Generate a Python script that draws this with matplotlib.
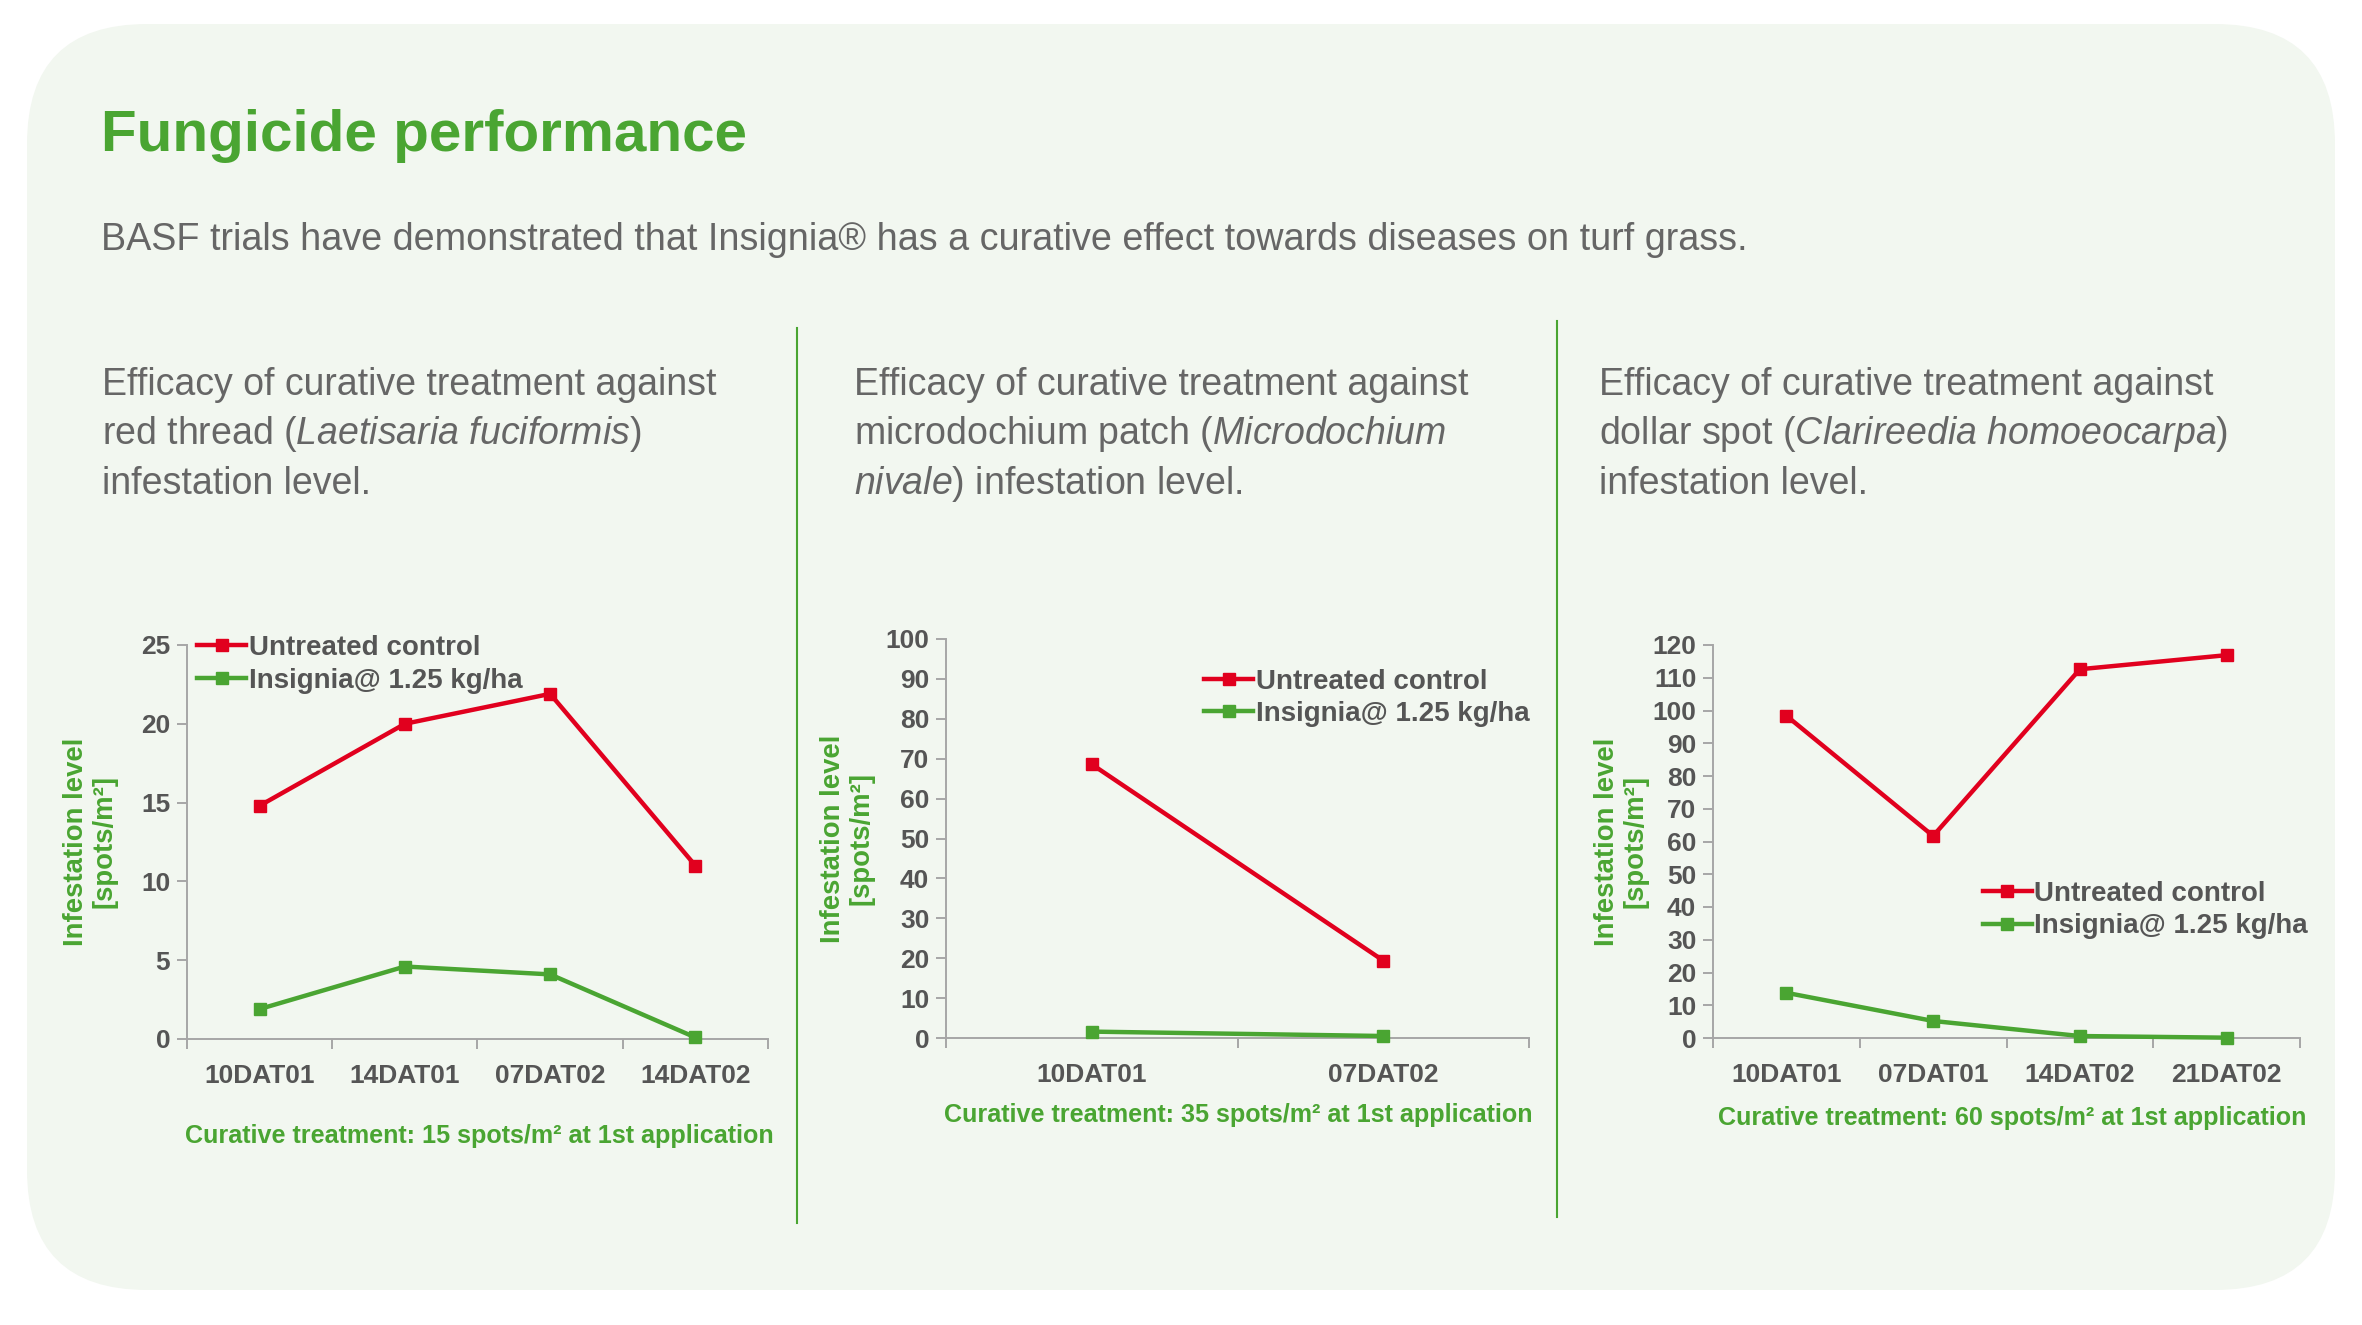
import numpy as np
import matplotlib
matplotlib.use("Agg")
import matplotlib.pyplot as plt
from matplotlib.patches import FancyBboxPatch
from matplotlib.lines import Line2D

# DATA ----------------------------------------------------------------------

labels_1 = ["10DAT01", "14DAT01", "07DAT02", "14DAT02"]
untreated_1 = [14.8, 20.0, 21.9, 11.0]
insignia_1 = [1.9, 4.6, 4.1, 0.1]

labels_2 = ["10DAT01", "07DAT02"]
untreated_2 = [68.6, 19.4]
insignia_2 = [1.6, 0.5]

labels_3 = ["10DAT01", "07DAT01", "14DAT02", "21DAT02"]
untreated_3 = [98.4, 61.7, 112.6, 116.9]
insignia_3 = [13.8, 5.2, 0.6, 0.1]

series_names = ["Untreated control", "Insignia@ 1.25 kg/ha"]

# STYLE ---------------------------------------------------------------------

W, H = 2362, 1325
GREEN = "#4aa532"
RED = "#e1001e"
GRAY_TXT = "#666666"
TICK_TXT = "#555555"
AXIS_GRAY = "#a6a6a6"
PANEL_BG = "#f2f7f0"
NARROW = ["Liberation Sans Narrow", "Liberation Sans", "DejaVu Sans"]
LW, MS = 3.2, 8

plt.rcParams["font.family"] = ["Liberation Sans", "DejaVu Sans"]
plt.rcParams["mathtext.fontset"] = "custom"
plt.rcParams["mathtext.rm"] = "Liberation Sans"
plt.rcParams["mathtext.it"] = "Liberation Sans:italic"

fig = plt.figure(figsize=(W / 100, H / 100), dpi=100)
fig.patch.set_facecolor("white")

# background axes in pixel coordinates
bg = fig.add_axes([0, 0, 1, 1])
bg.set_xlim(0, W)
bg.set_ylim(H, 0)
bg.axis("off")
bg.add_patch(FancyBboxPatch((27, 24), 2335 - 27, 1290 - 24,
                            boxstyle="round,pad=0,rounding_size=120",
                            fc=PANEL_BG, ec="none"))

bg.text(101, 151, "Fungicide performance", fontsize=42, fontweight="bold",
        color=GREEN, va="baseline")
bg.text(101, 250, "BASF trials have demonstrated that Insignia® has a curative "
        "effect towards diseases on turf grass.", fontsize=27.2,
        color=GRAY_TXT, va="baseline")

# dividers
bg.plot([797, 797], [328, 1223], color=GREEN, lw=1.5)
bg.plot([1557, 1557], [321, 1217], color=GREEN, lw=1.5)

panel_titles = [
    (102, ["Efficacy of curative treatment against",
           r"red thread ($\mathit{Laetisaria\ fuciformis}$)",
           "infestation level."]),
    (854, ["Efficacy of curative treatment against",
           r"microdochium patch ($\mathit{Microdochium}$",
           r"$\mathit{nivale}$) infestation level."]),
    (1599, ["Efficacy of curative treatment against",
            r"dollar spot ($\mathit{Clarireedia\ homoeocarpa}$)",
            "infestation level."]),
]
for x0, lines in panel_titles:
    for i, line in enumerate(lines):
        bg.text(x0, 395 + i * 49.5, line, fontsize=27, color=GRAY_TXT,
                va="baseline")

# CHARTS --------------------------------------------------------------------

charts = [
    dict(rect=[187, 645, 768, 1039], labels=labels_1, u=untreated_1,
         ins=insignia_1, ymax=25, ystep=5, leg=(0.018, 1.025), ylab=-0.167,
         note=(774, 1136)),
    dict(rect=[946, 639, 1529, 1038], labels=labels_2, u=untreated_2,
         ins=insignia_2, ymax=100, ystep=10, leg=(0.443, 0.926), ylab=-0.17,
         note=(1532, 1115)),
    dict(rect=[1713, 645, 2300, 1038], labels=labels_3, u=untreated_3,
         ins=insignia_3, ymax=120, ystep=10, leg=(0.46, 0.4), ylab=-0.157,
         note=(2306, 1118)),
]
notes = ["Curative treatment: 15 spots/m² at 1st application",
         "Curative treatment: 35 spots/m² at 1st application",
         "Curative treatment: 60 spots/m² at 1st application"]

for c, note in zip(charts, notes):
    l, t, r, b = c["rect"]
    ax = fig.add_axes([l / W, 1 - b / H, (r - l) / W, (b - t) / H])
    ax.set_facecolor("none")
    n = len(c["labels"])
    x = np.arange(n)
    ax.plot(x, c["u"], color=RED, lw=LW, marker="s", ms=MS,
            label=series_names[0], clip_on=False, zorder=3)
    ax.plot(x, c["ins"], color=GREEN, lw=LW, marker="s", ms=MS,
            label=series_names[1], clip_on=False, zorder=3)
    ax.set_xlim(-0.5, n - 0.5)
    ax.set_ylim(0, c["ymax"])
    ax.set_yticks(np.arange(0, c["ymax"] + 1, c["ystep"]))
    ax.set_xticks(np.arange(n + 1) - 0.5)
    ax.set_xticklabels([])
    ax.set_xticks(x, minor=True)
    ax.set_xticklabels(c["labels"], minor=True)
    ax.tick_params(axis="x", which="minor", length=0, pad=18)
    ax.tick_params(axis="both", which="major", length=7, width=1.4,
                   color=AXIS_GRAY, direction="out")
    ax.tick_params(axis="y", pad=5)
    for lab in ax.get_xticklabels(minor=True) + ax.get_yticklabels():
        lab.set_family(NARROW)
        lab.set_fontweight("bold")
        lab.set_fontsize(19)
        lab.set_color(TICK_TXT)
    for s in ["top", "right"]:
        ax.spines[s].set_visible(False)
    for s in ["left", "bottom"]:
        ax.spines[s].set_color(AXIS_GRAY)
        ax.spines[s].set_linewidth(1.4)

    handles = [Line2D([], [], color=RED, lw=LW, marker="s", ms=MS),
               Line2D([], [], color=GREEN, lw=LW, marker="s", ms=MS)]
    leg = ax.legend(handles, series_names, loc="upper left",
                    bbox_to_anchor=c["leg"], frameon=False, handlelength=1.75,
                    handletextpad=0.1, borderpad=0, borderaxespad=0,
                    labelspacing=0.24,
                    prop=dict(family=NARROW, weight="bold", size=20))
    for txt in leg.get_texts():
        txt.set_color(TICK_TXT)

    ax.text(c["ylab"], 0.5, "Infestation level\n[spots/m²]", rotation=90,
            transform=ax.transAxes, ha="center", va="center",
            multialignment="center", fontsize=19.8, fontweight="bold",
            color=GREEN, linespacing=1.12)

    nx, ny = c["note"]
    bg.text(nx, ny, note, ha="right", va="center", fontsize=18.1,
            fontweight="bold", family=NARROW, color=GREEN)

fig.savefig("out.png", dpi=100, facecolor="white")
